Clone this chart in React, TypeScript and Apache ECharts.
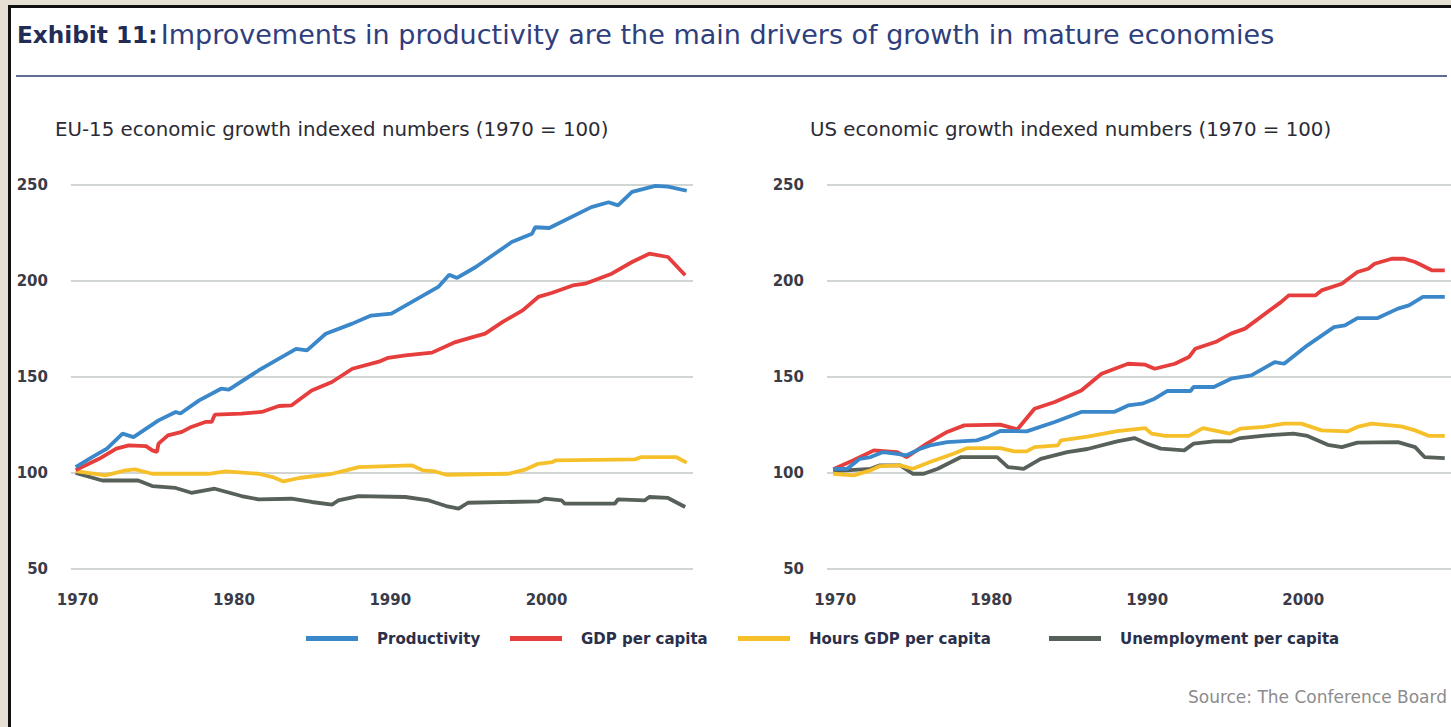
import React, { useEffect, useRef } from "react";
import * as echarts from "echarts";

const seriesNames = ["Productivity", "GDP per capita", "Hours GDP per capita", "Unemployment per capita"];
const seriesColors = ["#3a87c9", "#e63e3c", "#f6c02a", "#58605a"];
const yMin = 50;
const yMax = 250;
const yStep = 50;
const xLabelYears = [1970, 1980, 1990, 2000];

const euProductivity = [[1970,103],[1971,108],[1972,112.7],[1973,120.5],[1973.7,118.7],[1975.3,127.4],[1976.4,131.8],[1976.7,131],[1977.9,137.8],[1979.3,143.9],[1979.8,143.4],[1981.7,153.4],[1984.1,164.7],[1984.8,163.9],[1986,172.5],[1987.7,177.8],[1988.9,182],[1990.2,183],[1993.2,196.9],[1993.9,203.3],[1994.4,201.6],[1995.6,207.3],[1997.9,220.3],[1999.2,224.6],[1999.4,228],[2000.3,227.6],[2003,238.5],[2004.1,241],[2004.7,239.4],[2005.6,246.4],[2007.1,249.5],[2007.9,249.2],[2009.1,247]];
const euGdp = [[1970,101.5],[1971.5,107.4],[1972.6,112.7],[1973.4,114.4],[1974.5,114],[1974.9,111.8],[1975.2,111],[1975.3,115.3],[1975.9,119.6],[1976.8,121.4],[1977.4,124],[1978.3,126.6],[1978.7,126.6],[1978.9,130.4],[1980.6,130.9],[1981.9,131.8],[1983,134.9],[1983.8,135.2],[1985.1,143],[1986.4,147.4],[1987.7,154.3],[1989.4,158],[1990,160],[1991.1,161.3],[1992.8,162.7],[1994.3,168.2],[1995.4,170.8],[1996.2,172.6],[1997.3,178.6],[1998.6,184.7],[1999.6,191.7],[2000.5,193.9],[2001.8,197.7],[2002.6,198.6],[2004.3,203.8],[2005.6,209.9],[2006.7,214.2],[2007.9,212.5],[2009,203]];
const euHours = [[1970,101],[1971.9,98.8],[1973.2,101.4],[1973.8,101.9],[1974.9,99.6],[1978.5,99.6],[1979.6,100.8],[1981.7,99.6],[1982.6,97.9],[1983.3,95.6],[1984.3,97.4],[1986.4,99.6],[1987.3,101.4],[1988.1,103.1],[1990,103.6],[1991.5,104],[1992.2,101.4],[1993,100.8],[1993.7,99.1],[1997.7,99.6],[1998.8,101.9],[1999.6,104.8],[2000.5,105.7],[2000.7,106.6],[2005.8,107.1],[2006.2,108.3],[2008.4,108.3],[2009.1,105.4]];
const euUnemployment = [[1970,100],[1971.7,96.1],[1974,96.1],[1974.9,93.2],[1976.4,92.2],[1977.4,89.7],[1978.9,91.8],[1980.6,88],[1981.7,86.3],[1983.8,86.6],[1985.1,84.9],[1986.4,83.5],[1986.8,85.7],[1988.1,88],[1991.1,87.5],[1992.6,85.7],[1993.7,82.8],[1994.5,81.4],[1995.1,84.5],[1999.6,85.2],[2000,86.6],[2001.1,85.7],[2001.3,84],[2004.5,84],[2004.7,86.3],[2006.4,85.7],[2006.7,87.5],[2007.9,87],[2009,82.3]];

const usProductivity = [[1970,102.2],[1970.9,102.2],[1971.7,107.4],[1972.4,108.3],[1973.2,110.9],[1974.1,110],[1974.7,109.2],[1975.6,112.7],[1976.2,114.4],[1977.3,116.1],[1979.2,117],[1979.9,118.8],[1980.7,121.9],[1982.4,121.7],[1984.2,126.6],[1985.9,131.8],[1988,131.8],[1988.9,135.2],[1989.8,136.1],[1990.6,138.7],[1991.4,142.7],[1992.9,142.7],[1993.1,144.8],[1994.4,144.8],[1995.5,149.1],[1996.8,150.8],[1998.3,157.8],[1998.9,156.9],[2000.4,166.5],[2002.1,176],[2002.8,176.9],[2003.6,180.7],[2004.9,180.7],[2006.2,185.6],[2006.9,187.3],[2007.8,191.7],[2009.2,191.7]];
const usGdp = [[1970,102],[1971.3,106.6],[1972.6,111.8],[1974.1,110.9],[1974.7,108.3],[1976,115.3],[1977.3,121.4],[1978.4,124.8],[1980.7,125.2],[1981.8,122.7],[1982.9,133.5],[1984.2,137],[1985.9,143],[1987.2,151.7],[1988.9,156.9],[1990,156.4],[1990.6,154.3],[1991.9,156.9],[1992.8,160.4],[1993.2,164.7],[1994.5,168.2],[1995.5,172.6],[1996.4,175.2],[1998.7,189],[1999.2,192.5],[2000.9,192.5],[2001.3,195.1],[2002.6,198.6],[2003.6,204.7],[2004.3,206.4],[2004.7,209],[2005.8,211.6],[2006.6,211.6],[2007.3,209.9],[2008.4,205.5],[2009.2,205.5]];
const usHours = [[1970,99.6],[1971.3,98.8],[1972.4,101.4],[1973,103.6],[1974.3,104],[1975.1,102.2],[1976.2,105.7],[1977.7,110],[1978.6,113],[1980.7,113],[1981.6,111.3],[1982.4,111.3],[1982.9,113.5],[1984.4,114.4],[1984.6,117],[1986.3,119],[1988.2,121.8],[1990,123.4],[1990.4,120.5],[1991.3,119.3],[1992.8,119.3],[1993.7,123.4],[1995.4,120.5],[1996.1,123.1],[1997.6,124],[1998.9,125.7],[2000,125.7],[2001.3,122.2],[2003,121.7],[2003.6,124],[2004.5,125.7],[2006.4,124.3],[2007.3,122.2],[2008.2,119.3],[2009.2,119.3]];
const usUnemployment = [[1970,101],[1972.4,102.2],[1973,104],[1974.3,104],[1975.1,99.6],[1975.8,99.6],[1976.7,102.2],[1978.2,108.3],[1980.5,108.3],[1981.2,103.1],[1982.2,102.2],[1983.3,107.4],[1985,110.9],[1986.3,112.5],[1988.2,116.5],[1989.3,118.2],[1990.1,115.3],[1991,112.7],[1992.5,111.8],[1993.1,115.3],[1994.4,116.5],[1995.5,116.5],[1996.1,118.2],[1997.8,119.6],[1999.5,120.5],[2000.4,119.3],[2001.7,114.7],[2002.6,113.5],[2003.6,115.8],[2006.2,116.1],[2007.3,113.5],[2007.9,108.3],[2009.2,107.8]];

const euSeries = [euProductivity, euGdp, euHours, euUnemployment];
const usSeries = [usProductivity, usGdp, usHours, usUnemployment];

const titleBold = "Exhibit 11:";
const titleRest = "Improvements in productivity are the main drivers of growth in mature economies";
const euTitle = "EU-15 economic growth indexed numbers (1970 = 100)";
const usTitle = "US economic growth indexed numbers (1970 = 100)";
const sourceText = "Source: The Conference Board";

const FONT = "DejaVu Sans";
const labelColor = "#3a3b48";
const legendLefts = [306, 510, 738, 1049];

export default function App() {
  const ref = useRef<HTMLDivElement>(null);
  useEffect(() => {
    const chart = echarts.init(ref.current!, undefined, { renderer: "svg" });
    const xAxisBase = (gridIndex: number, min: number, max: number) => ({
      type: "value",
      gridIndex,
      min,
      max,
      splitNumber: 4,
      axisLine: { show: false },
      axisTick: { show: false },
      splitLine: { show: false },
      axisLabel: {
        margin: 23,
        padding: [0, 0, 0, 4],
        color: labelColor,
        fontFamily: FONT,
        fontSize: 15,
        fontWeight: "bold",
        showMinLabel: false,
        showMaxLabel: false,
        formatter: (v: number) => (xLabelYears.indexOf(Math.round(v * 1000) / 1000) >= 0 ? String(v) : ""),
      },
    });
    const yAxisBase = (gridIndex: number) => ({
      type: "value",
      gridIndex,
      min: yMin,
      max: yMax,
      interval: yStep,
      axisLine: { show: false },
      axisTick: { show: false },
      splitLine: { show: true, lineStyle: { color: "#c3c8c3", width: 1.6 } },
      axisLabel: { margin: 23, color: labelColor, fontFamily: FONT, fontSize: 15, fontWeight: "bold" },
    });
    const mk = (data: number[][][], idx: number) =>
      data.map((d, i) => ({
        name: seriesNames[i],
        type: "line",
        xAxisIndex: idx,
        yAxisIndex: idx,
        data: d,
        showSymbol: false,
        symbol: "none",
        lineStyle: { color: seriesColors[i], width: 3.8 },
        itemStyle: { color: seriesColors[i] },
        z: 10 - i,
      }));
    chart.setOption({
      animation: false,
      backgroundColor: "#e5dfd4",
      grid: [
        { left: 71, top: 185, width: 622, height: 384 },
        { left: 827, top: 185, width: 624, height: 384 },
      ],
      xAxis: [xAxisBase(0, 1969.7, 2009.5), xAxisBase(1, 1969.6, 2009.6)],
      yAxis: [yAxisBase(0), yAxisBase(1)],
      legend: seriesNames.map((n, i) => ({
        left: legendLefts[i],
        top: 631,
        padding: 0,
        itemWidth: 52,
        itemHeight: 5,
        icon: "rect",
        data: [n],
        textStyle: {
          color: "#2b2f4a",
          fontFamily: FONT,
          fontSize: 15,
          fontWeight: "bold",
          padding: [0, 0, 0, 14],
        },
      })),
      graphic: [
        { type: "rect", z: -10, shape: { x: 8, y: 5, width: 1443, height: 722 }, style: { fill: "#111111" } },
        { type: "rect", z: -9, shape: { x: 11, y: 8, width: 1440, height: 719 }, style: { fill: "#ffffff" } },
        {
          type: "text",
          x: 17,
          y: 34,
          style: {
            text: `{b|${titleBold}} {r|${titleRest}}`,
            verticalAlign: "middle",
            rich: {
              b: { fontFamily: FONT, fontSize: 23.2, fontWeight: "bold", fill: "#222c55", color: "#222c55" },
              r: { fontFamily: FONT, fontSize: 27, fill: "#2f3e7c", color: "#2f3e7c" },
            },
          },
        },
        { type: "line", shape: { x1: 16, y1: 76, x2: 1447, y2: 76 }, style: { stroke: "#5d6d96", lineWidth: 2 } },
        {
          type: "text",
          x: 55,
          y: 129,
          style: { text: euTitle, fontFamily: FONT, fontSize: 19.8, fill: "#2b2b35", verticalAlign: "middle" },
        },
        {
          type: "text",
          x: 810,
          y: 129,
          style: { text: usTitle, fontFamily: FONT, fontSize: 19.8, fill: "#2b2b35", verticalAlign: "middle" },
        },
        {
          type: "text",
          x: 1447,
          y: 697,
          style: { text: sourceText, fontFamily: FONT, fontSize: 17, fill: "#8c8c8c", align: "right", verticalAlign: "middle" },
        },
      ],
      series: [...mk(euSeries, 0), ...mk(usSeries, 1)],
    });
    return () => chart.dispose();
  }, []);
  return <div ref={ref} style={{ position: "fixed", left: 0, top: 0, width: 1451, height: 727 }} />;
}
